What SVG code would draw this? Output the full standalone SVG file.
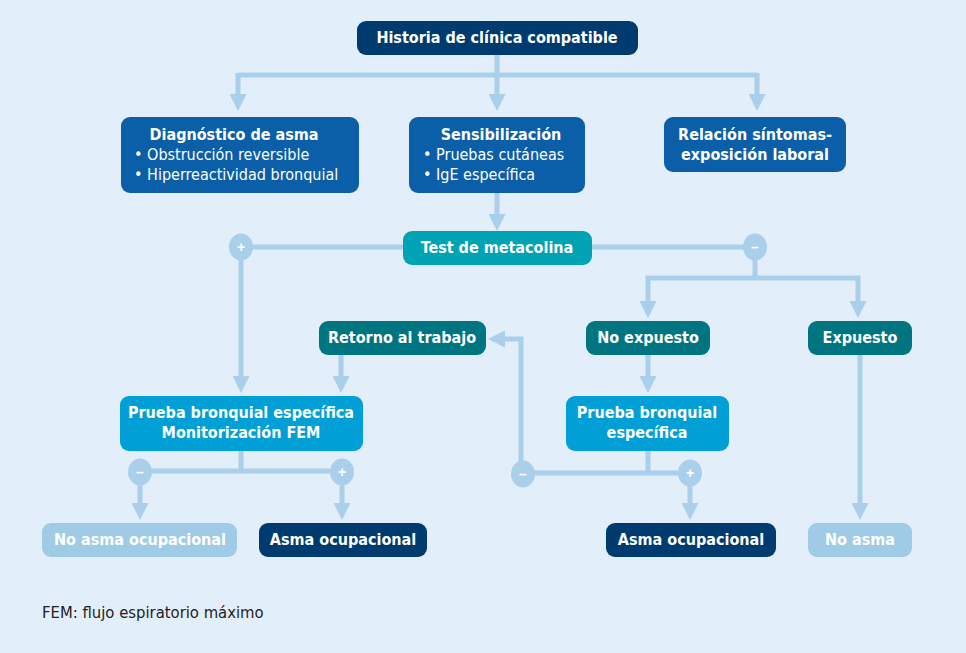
<svg xmlns="http://www.w3.org/2000/svg" width="966" height="653" viewBox="0 0 966 653">
<defs>
<style>
.bg{fill:#e2eef9}
.navy{fill:#003b6f}
.blue{fill:#0b5ea8}
.teal{fill:#00a3b4}
.dteal{fill:#007582}
.cyan{fill:#00a0d6}
.light{fill:#9fcbe6}
text{font-family:"Liberation Sans Narrow","DejaVu Sans Condensed","Liberation Sans",sans-serif;fill:#fff;text-anchor:middle}
.b{font-weight:bold;font-size:16px}
.r{font-size:16px;text-anchor:start}
.c{fill:none;stroke:#a9cfea;stroke-width:5}
.dot{fill:#a9cfea}
.sg{font-family:"Liberation Sans",sans-serif;font-size:14px;font-weight:bold}
.foot{fill:#222;text-anchor:start;font-size:16.5px;font-family:"Liberation Sans Narrow","DejaVu Sans Condensed","Liberation Sans",sans-serif}
</style>
<marker id="ah" markerUnits="userSpaceOnUse" markerWidth="17" markerHeight="17" viewBox="0 0 17 17" refX="4" refY="8.5" orient="auto">
<path d="M0,0 L17,8.5 L0,17 z" fill="#a9cfea"/>
</marker>
</defs>
<rect class="bg" x="0" y="0" width="966" height="653"/>
<g id="connectors">
<path class="c" d="M497,55 V75"/>
<path class="c" d="M238,75 H757"/>
<path class="c" d="M238,73 V98" marker-end="url(#ah)"/>
<path class="c" d="M497,73 V98" marker-end="url(#ah)"/>
<path class="c" d="M757,73 V98" marker-end="url(#ah)"/>
<path class="c" d="M497,193 V218" marker-end="url(#ah)"/>
<path class="c" d="M403,247 H241 V380" marker-end="url(#ah)"/>
<path class="c" d="M592,247 H755 V278"/>
<path class="c" d="M646,278 H860"/>
<path class="c" d="M648,276 V305" marker-end="url(#ah)"/>
<path class="c" d="M858,276 V305" marker-end="url(#ah)"/>
<path class="c" d="M341,355 V380" marker-end="url(#ah)"/>
<path class="c" d="M241,451 V471"/>
<path class="c" d="M140,471 H342"/>
<path class="c" d="M140,471 V507" marker-end="url(#ah)"/>
<path class="c" d="M342,471 V507" marker-end="url(#ah)"/>
<path class="c" d="M648,355 V380" marker-end="url(#ah)"/>
<path class="c" d="M648,451 V473"/>
<path class="c" d="M523,473 H690"/>
<path class="c" d="M690,473 V507" marker-end="url(#ah)"/>
<path class="c" d="M521,473 V339 H501" marker-end="url(#ah)"/>
<path class="c" d="M860,355 V507" marker-end="url(#ah)"/>
<ellipse class="dot" cx="241" cy="247" rx="12" ry="13.5"/>
<text class="sg" x="241" y="252">+</text>
<ellipse class="dot" cx="755" cy="247" rx="12" ry="13.5"/>
<text class="sg" x="755" y="252">–</text>
<ellipse class="dot" cx="140" cy="472" rx="12" ry="13.5"/>
<text class="sg" x="140" y="477">–</text>
<ellipse class="dot" cx="342" cy="472" rx="12" ry="13.5"/>
<text class="sg" x="342" y="477">+</text>
<ellipse class="dot" cx="523" cy="474" rx="12" ry="13.5"/>
<text class="sg" x="523" y="479">–</text>
<ellipse class="dot" cx="690" cy="473" rx="12" ry="13.5"/>
<text class="sg" x="690" y="478">+</text>
</g>
<g id="historia">
<rect class="navy" x="357" y="21" width="281" height="34" rx="9"/>
<text class="b" x="497" y="43">Historia de clínica compatible</text>
</g>
<g id="diagnostico">
<rect class="blue" x="121" y="117" width="238" height="76" rx="9"/>
<text class="b" x="234" y="140">Diagnóstico de asma</text>
<text class="r" x="134" y="160">•  Obstrucción reversible</text>
<text class="r" x="134" y="180">•  Hiperreactividad bronquial</text>
</g>
<g id="sensibilizacion">
<rect class="blue" x="409" y="117" width="176" height="76" rx="9"/>
<text class="b" x="501" y="140">Sensibilización</text>
<text class="r" x="423" y="160">•  Pruebas cutáneas</text>
<text class="r" x="423" y="180">•  IgE específica</text>
</g>
<g id="relacion">
<rect class="blue" x="664" y="117" width="182" height="55" rx="9"/>
<text class="b" x="755" y="140">Relación síntomas-</text>
<text class="b" x="755" y="160">exposición laboral</text>
</g>
<g id="metacolina">
<rect class="teal" x="403" y="231" width="189" height="34" rx="9"/>
<text class="b" x="497" y="253">Test de metacolina</text>
</g>
<g id="retorno">
<rect class="dteal" x="319" y="321" width="167" height="34" rx="9"/>
<text class="b" x="402" y="343">Retorno al trabajo</text>
</g>
<g id="noexpuesto">
<rect class="dteal" x="586" y="321" width="124" height="34" rx="9"/>
<text class="b" x="648" y="343">No expuesto</text>
</g>
<g id="expuesto">
<rect class="dteal" x="808" y="321" width="104" height="34" rx="9"/>
<text class="b" x="860" y="343">Expuesto</text>
</g>
<g id="prueba1">
<rect class="cyan" x="120" y="396" width="243" height="55" rx="9"/>
<text class="b" x="241" y="418">Prueba bronquial específica</text>
<text class="b" x="241" y="438">Monitorización FEM</text>
</g>
<g id="prueba2">
<rect class="cyan" x="566" y="396" width="163" height="55" rx="9"/>
<text class="b" x="647" y="418">Prueba bronquial</text>
<text class="b" x="647" y="438">específica</text>
</g>
<g id="noasmaocup">
<rect class="light" x="42" y="523" width="195" height="34" rx="9"/>
<text class="b" x="140" y="545">No asma ocupacional</text>
</g>
<g id="asmaocup1">
<rect class="navy" x="259" y="523" width="168" height="34" rx="9"/>
<text class="b" x="343" y="545">Asma ocupacional</text>
</g>
<g id="asmaocup2">
<rect class="navy" x="606" y="523" width="170" height="34" rx="9"/>
<text class="b" x="691" y="545">Asma ocupacional</text>
</g>
<g id="noasma">
<rect class="light" x="808" y="523" width="104" height="34" rx="9"/>
<text class="b" x="860" y="545">No asma</text>
</g>
<text class="foot" x="42" y="618">FEM: flujo espiratorio máximo</text>
</svg>
